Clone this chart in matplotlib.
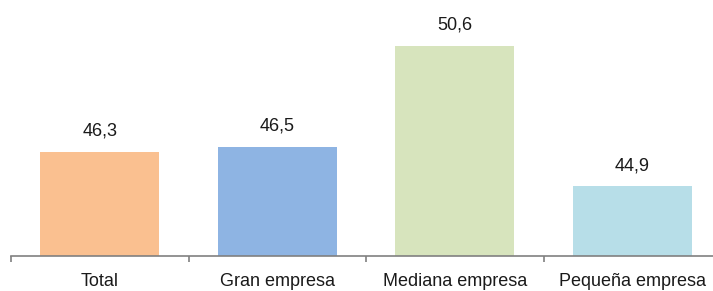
import matplotlib.pyplot as plt

plt.rcParams['font.family'] = ['Liberation Sans', 'DejaVu Sans']

# datos
categorias = ['Total', 'Gran empresa', 'Mediana empresa', 'Pequeña empresa']
valores = [46.3, 46.5, 50.6, 44.9]
colores = ['#FAC090', '#8EB4E3', '#D7E4BD', '#B7DEE8']

fig = plt.figure(figsize=(7.13, 2.91), dpi=100)
# el eje se extiende un poco más allá del borde derecho, como en el original
ax = fig.add_axes([11 / 713, 35 / 291, 710 / 713, 256 / 291])

x = range(len(categorias))
bars = ax.bar(x, valores, width=0.67, color=colores, zorder=2)

for b, v in zip(bars, valores):
    ax.annotate(f'{v:.1f}'.replace('.', ','),
                xy=(b.get_x() + b.get_width() / 2, v),
                xytext=(0, 11.5), textcoords='offset points',
                ha='center', va='baseline', fontsize=13, color='#1a1a1a')

ax.set_xlim(-0.5, 3.5)
ax.set_ylim(42.05, 52.47)
ax.set_xticks([-0.5, 0.5, 1.5, 2.5, 3.5])
ax.set_xticklabels([])
ax.set_xticks(list(x), minor=True)
ax.set_xticklabels(categorias, minor=True, fontsize=13, color='#1a1a1a')
ax.tick_params(axis='x', which='major', length=4, color='#808080', width=1.2)
ax.tick_params(axis='x', which='minor', length=0, pad=12)
ax.set_yticks([])

for s in ['top', 'right', 'left']:
    ax.spines[s].set_visible(False)
ax.spines['bottom'].set_color('#808080')
ax.spines['bottom'].set_linewidth(1.2)

fig.savefig('out.png', dpi=100)
